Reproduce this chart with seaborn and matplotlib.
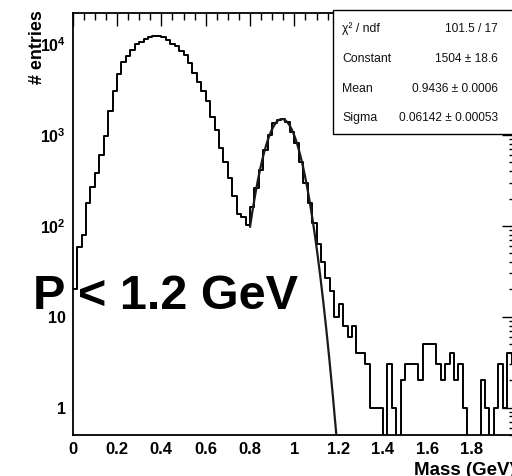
import numpy as np
import pandas as pd
import matplotlib
matplotlib.use("Agg")
import matplotlib.pyplot as plt
import matplotlib.patches as mpatches
from matplotlib.ticker import MultipleLocator, LogLocator, FuncFormatter, NullFormatter
import seaborn as sns

# ---------------- data ----------------
x_min, x_max, n_bins = 0.0, 2.0, 100
counts = [20, 59, 80, 178, 270, 379, 603, 975, 1850, 3070,
          4680, 6390, 7380, 8740, 10000, 10600, 11540, 12020, 12300, 12300,
          12000, 11100, 10200, 9500, 8500, 7700, 6300, 4800, 3850, 3050,
          2370, 1590, 1135, 720, 509, 334, 212, 135, 127, 103,
          161, 260, 412, 684, 1000, 1365, 1460, 1525, 1400, 1087,
          811, 509, 295, 178, 107, 63, 40, 27, 19, 10,
          14, 8, 6, 8, 4, 4, 3, 1, 1, 1,
          0, 3, 1, 0, 2, 3, 3, 3, 2, 5,
          5, 5, 3, 2, 3, 4, 2, 3, 1, 0,
          0, 0, 2, 1, 0, 1, 3, 1, 4, 3]

fit_constant = 1504.0
fit_mean = 0.9436
fit_sigma = 0.06142
fit_range = (0.8, 1.2)

stats_labels = ["χ² / ndf", "Constant", "Mean", "Sigma"]
stats_values = ["101.5 / 17", "1504 ± 18.6", "0.9436 ± 0.0006", "0.06142 ± 0.00053"]

x_title = "Mass (GeV)"
y_title = "# entries"
note_text = "P < 1.2 GeV"

# ---------------- style ----------------
sns.set_theme(style="white")
plt.rcParams["font.family"] = ["Liberation Sans", "DejaVu Sans"]
plt.rcParams["font.weight"] = "bold"
plt.rcParams["text.color"] = "black"
plt.rcParams["axes.labelcolor"] = "black"
plt.rcParams["xtick.color"] = "black"
plt.rcParams["ytick.color"] = "black"
plt.rcParams["xtick.labelcolor"] = "black"
plt.rcParams["ytick.labelcolor"] = "black"
plt.rcParams["mathtext.fontset"] = "custom"
plt.rcParams["mathtext.rm"] = "Liberation Sans:bold"
plt.rcParams["mathtext.bf"] = "Liberation Sans:bold"
plt.rcParams["mathtext.it"] = "Liberation Sans:bold"
plt.rcParams["mathtext.default"] = "rm"

W, H = 512, 476
fig = plt.figure(figsize=(W / 100, H / 100), dpi=100)
ax_l, ax_r, ax_t, ax_b = 72.7, 516.0, 12.5, 435.0
ax = fig.add_axes([ax_l / W, (H - ax_b) / H, (ax_r - ax_l) / W, (ax_b - ax_t) / H])
ax.set_facecolor("white")

edges = np.linspace(x_min, x_max, n_bins + 1)
cnt = np.array(counts, dtype=float)
cnt_plot = np.where(cnt > 0, cnt, 1e-3)
hist_df = pd.DataFrame({"edge": edges, "count": np.append(cnt_plot, cnt_plot[-1])})

ax.set_yscale("log")
sns.lineplot(data=hist_df, x="edge", y="count", drawstyle="steps-post",
             color="black", lw=1.4, ax=ax, estimator=None, sort=False)

xf = np.linspace(fit_range[0], fit_range[1], 300)
yf = fit_constant * np.exp(-0.5 * ((xf - fit_mean) / fit_sigma) ** 2)
sns.lineplot(x=xf, y=yf, color="#1a1a1a", lw=1.6, ax=ax, estimator=None, sort=False)

ax.set_xlim(x_min, x_max)
ax.set_ylim(0.5, 22400)
ax.set_xlabel("")
ax.set_ylabel("")

ax.xaxis.set_major_locator(MultipleLocator(0.2))
ax.xaxis.set_minor_locator(MultipleLocator(0.05))
ax.xaxis.set_major_formatter(FuncFormatter(lambda v, p: f"{v:g}"))


def yfmt(v, p):
    e = int(round(np.log10(v)))
    if e == 0:
        return "1"
    if e == 1:
        return "10"
    return r"$10^{%d}$" % e


ax.yaxis.set_major_locator(LogLocator(base=10, numticks=10))
ax.yaxis.set_minor_locator(LogLocator(base=10, subs=np.arange(2, 10), numticks=20))
ax.yaxis.set_major_formatter(FuncFormatter(yfmt))
ax.yaxis.set_minor_formatter(NullFormatter())

ax.tick_params(axis="both", which="both", direction="in", top=True, right=True,
               colors="black", width=1.0)
ax.tick_params(axis="x", which="major", length=9, pad=5, labelsize=12)
ax.tick_params(axis="x", which="minor", length=4.8)
ax.tick_params(axis="y", which="major", length=10, pad=5, labelsize=11.5)
ax.tick_params(axis="y", which="minor", length=5.3)
for s in ax.spines.values():
    s.set_color("black")
    s.set_linewidth(1.3)

# axis titles (ROOT style: at the ends of the axes)
fig.text(ax_r / W, (H - 475) / H, x_title, ha="right", va="baseline",
         fontsize=13.5, fontweight="bold", color="black")
fig.text(46 / W, (H - 10) / H, y_title, ha="right", va="top", rotation=90,
         fontsize=13, fontweight="bold", color="black")

# big annotation
fig.text(33 / W, (H - 309) / H, note_text, ha="left", va="baseline",
         fontsize=35, fontweight="bold", color="black", zorder=20)

# stats box
bx0, by0, bx1, by1 = 333, 10, 540, 134
box = mpatches.Rectangle((bx0 / W, (H - by1) / H), (bx1 - bx0) / W, (by1 - by0) / H,
                         transform=fig.transFigure, facecolor="white",
                         edgecolor="black", lw=1.0, zorder=30)
fig.add_artist(box)
row_y = [29, 59, 88.5, 118]
for lab, val, yy in zip(stats_labels, stats_values, row_y):
    fig.text(342 / W, (H - yy) / H, lab, ha="left", va="center", fontsize=8.8,
             fontweight="normal", color="#111111", zorder=31)
    fig.text(498 / W, (H - yy) / H, val, ha="right", va="center", fontsize=8.6,
             fontweight="normal", color="#111111", zorder=31)

fig.savefig("out.png", dpi=100)
